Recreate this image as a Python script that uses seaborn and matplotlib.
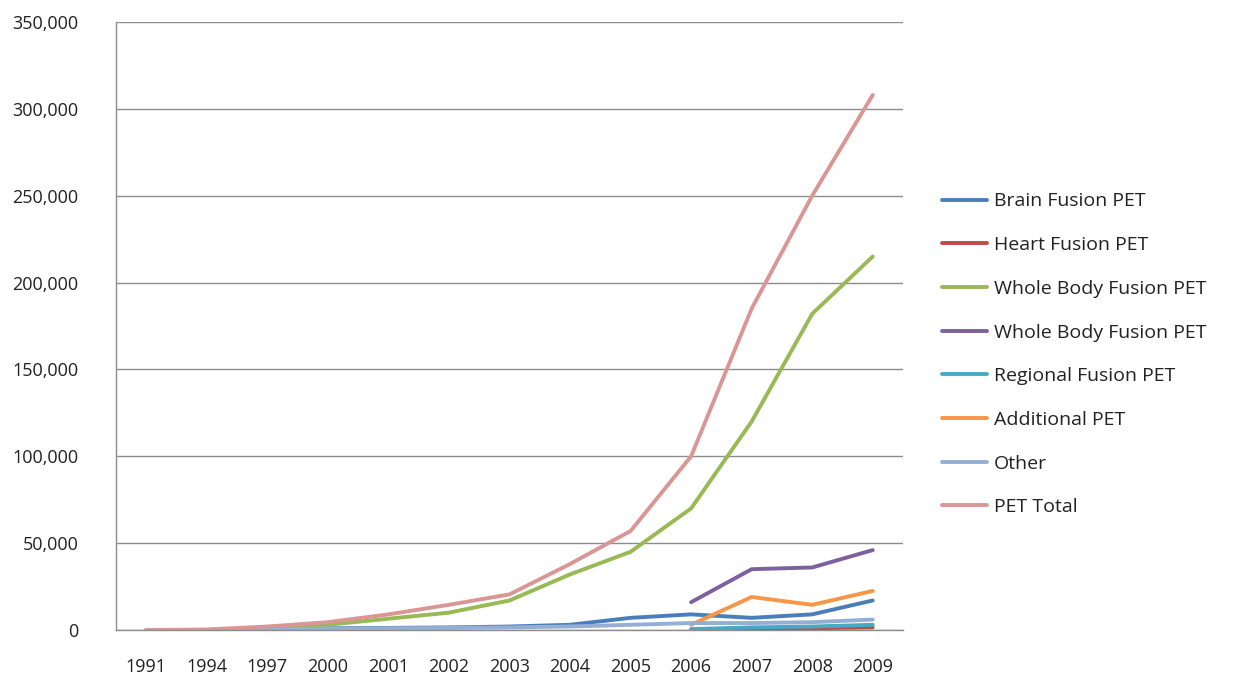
import numpy as np
import pandas as pd
import matplotlib
matplotlib.use("Agg")
import matplotlib.pyplot as plt
import seaborn as sns
from matplotlib.ticker import FuncFormatter, FixedLocator

years = ["1991", "1994", "1997", "2000", "2001", "2002", "2003",
         "2004", "2005", "2006", "2007", "2008", "2009"]
nan = np.nan

brain_fusion = [0, 0, 500, 1000, 1200, 1500, 2000, 3000, 7000, 9000, 7000, 9000, 17000]
heart_fusion = [nan, nan, nan, nan, nan, nan, nan, nan, nan, 300, 700, 1000, 1500]
whole_body_fusion = [0, 0, 1000, 3000, 6500, 10000, 17000, 32000, 45000, 70000, 120000, 182000, 215000]
whole_body_fusion_2 = [nan, nan, nan, nan, nan, nan, nan, nan, nan, 16000, 35000, 36000, 46000]
regional_fusion = [nan, nan, nan, nan, nan, nan, nan, nan, nan, 500, 1500, 2000, 3000]
additional_pet = [nan, nan, nan, nan, nan, nan, nan, nan, nan, 3000, 19000, 14500, 22500]
other = [0, 0, 500, 800, 1000, 1200, 1500, 2000, 3000, 4000, 4000, 4500, 6000]
pet_total = [0, 300, 2000, 4500, 9000, 14500, 20500, 38000, 57000, 100000, 185000, 250000, 308000]

series_names = ["Brain Fusion PET", "Heart Fusion PET", "Whole Body Fusion PET",
                "Whole Body Fusion PET", "Regional Fusion PET", "Additional PET",
                "Other", "PET Total"]
series_values = [brain_fusion, heart_fusion, whole_body_fusion, whole_body_fusion_2,
                 regional_fusion, additional_pet, other, pet_total]
colors = ["#4A7EBB", "#BE4B48", "#98B954", "#7D60A0",
          "#46AAC5", "#F79646", "#95AFD4", "#D99694"]

sns.set_style("white")
plt.rcParams['font.family'] = ['Open Sans', 'DejaVu Sans']

fig = plt.figure(figsize=(12.44, 6.82), dpi=100)
ax = fig.add_axes([116 / 1244, 1 - 630 / 682, (903 - 116) / 1244, (630 - 22) / 682])

x = np.arange(len(years))
for name, vals, c in zip(series_names, series_values, colors):
    df = pd.DataFrame({"x": x, "y": vals})
    sns.lineplot(data=df, x="x", y="y", color=c, linewidth=2.8, label=name, ax=ax)

ax.set_xlim(-0.5, len(years) - 0.5)
ax.set_ylim(0, 350000)
ax.set_yticks(np.arange(0, 350001, 50000))
ax.yaxis.set_major_formatter(FuncFormatter(lambda v, p: f"{int(v):,}"))
ax.set_xticks(x)
ax.set_xticklabels(years)
ax.xaxis.set_minor_locator(FixedLocator(np.arange(-0.5, len(years), 1.0)))
ax.tick_params(axis="x", which="major", length=0, pad=20, labelsize=13, labelcolor="#222222")
ax.tick_params(axis="x", which="minor", length=6, color="#888888", width=1, direction="out")
ax.tick_params(axis="y", length=7, color="#888888", width=1, labelsize=13,
               labelcolor="#222222", pad=20, direction="out")
ax.set_xlabel("")
ax.set_ylabel("")
ax.grid(axis="y", color="#8c8c8c", linewidth=1)
ax.set_axisbelow(True)
for s in ["top", "right"]:
    ax.spines[s].set_visible(False)
for s in ["left", "bottom"]:
    ax.spines[s].set_color("#8c8c8c")
    ax.spines[s].set_linewidth(1)

handles, labels = ax.get_legend_handles_labels()
ax.legend_.remove()
fig.legend(handles, labels, loc="upper left", bbox_to_anchor=(925 / 1244, 1 - 175 / 682),
           frameon=False, fontsize=14, handlelength=2.3, handletextpad=0.36,
           labelspacing=1.32, labelcolor="#222222")

fig.savefig("out.png", dpi=100)
